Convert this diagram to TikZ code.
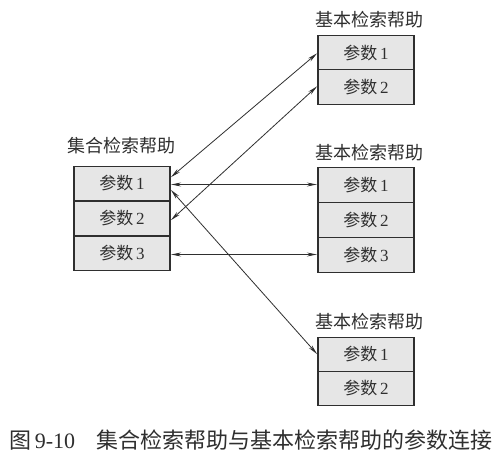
\documentclass[tikz,border=0pt]{standalone}
\usepackage{fontspec}
\setmainfont{Liberation Serif}
\newfontfamily\cjk{Noto Sans CJK SC}
\usetikzlibrary{arrows.meta,calc}
\definecolor{boxfill}{HTML}{E6E6E6}
\definecolor{ink}{HTML}{2F2F2F}
\tikzset{
  cell/.style={draw=ink,line width=1.1pt,fill=boxfill,minimum width=96pt,minimum height=34.5pt,inner sep=0pt,font=\fontsize{17}{19}\selectfont,text=ink},
  title/.style={font=\cjk\fontsize{18}{20}\selectfont,text=ink,inner sep=0pt},
  link/.style={draw=ink,line width=0.8pt,{Stealth[length=10pt,width=4pt]}-{Stealth[length=10pt,width=4pt]},shorten <=0.5pt,shorten >=0.5pt}
}
\newcommand{\cs}[1]{{\cjk 参数}\,#1}
\begin{document}
\begin{tikzpicture}[x=1pt,y=-1pt]
\useasboundingbox[fill=white] (0,0) rectangle (503,468);
% left box
\node[cell] (L1) at (122,183.5) {\cs{1}};
\node[cell] (L2) at (122,218.5) {\cs{2}};
\node[cell] (L3) at (122,253.5) {\cs{3}};
\node[title] (LT) at (121,146) {集合检索帮助};
% top right
\node[cell] (A1) at (366,53) {\cs{1}};
\node[cell] (A2) at (366,87) {\cs{2}};
\node[title] (AT) at (369,20) {基本检索帮助};
% middle right
\node[cell] (B1) at (366,185) {\cs{1}};
\node[cell] (B2) at (366,220) {\cs{2}};
\node[cell] (B3) at (366,255) {\cs{3}};
\node[title] (BT) at (369,153) {基本检索帮助};
% bottom right
\node[cell] (C1) at (366,354.5) {\cs{1}};
\node[cell] (C2) at (366,388.5) {\cs{2}};
\node[title] (CT) at (369,322) {基本检索帮助};
% connectors
\draw[link] ([yshift=6pt]L1.east) -- (A1.west);
\draw[link] ([yshift=-2pt]L2.east) -- ([yshift=1pt]A2.west);
\draw[link] ([yshift=-1pt]L1.east) -- ([yshift=-1pt]L1.east -| B1.west);
\draw[link] ([yshift=-1pt]L3.east) -- ([yshift=-1pt]L3.east -| B3.west);
\draw[link] ([yshift=-6pt]L1.east) -- (C1.west);
% caption
\node[anchor=west,inner sep=0pt,text=ink,font=\fontsize{22}{24}\selectfont] (cap) at (9,440) {{\cjk 图}\,9-10\hspace{21pt}{\cjk 集合检索帮助与基本检索帮助的参数连接}};
\end{tikzpicture}
\end{document}
